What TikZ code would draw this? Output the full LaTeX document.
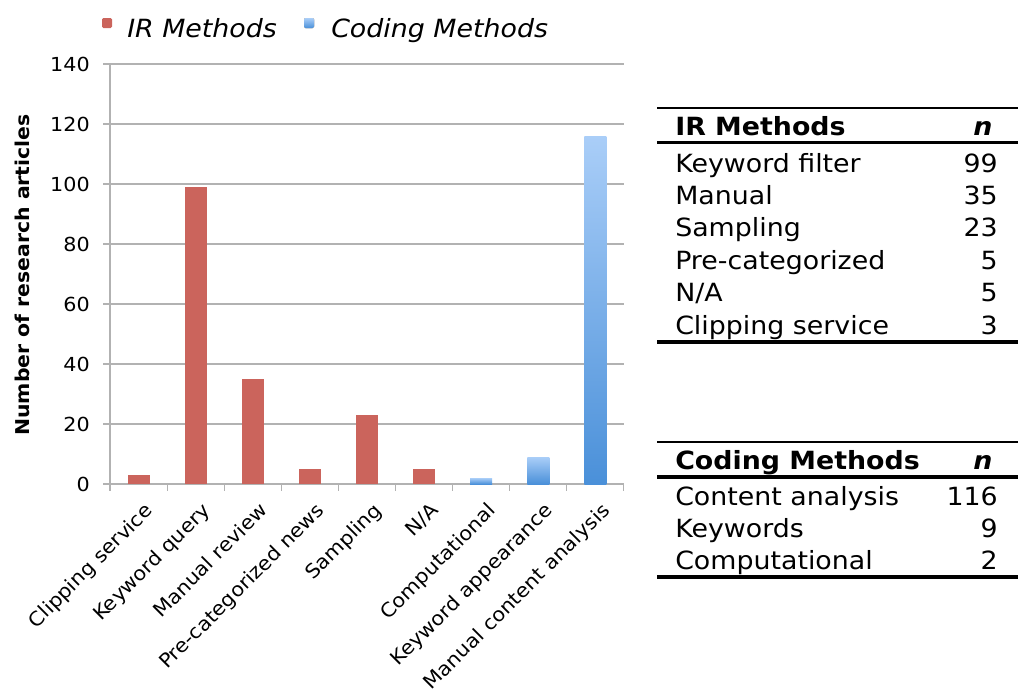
\documentclass[tikz,border=0pt]{standalone}
\usepackage{fontspec}
\setmainfont{DejaVu Sans}[FakeStretch=1.07]
\definecolor{gridgray}{RGB}{178,178,178}
\definecolor{irred}{RGB}{203,100,92}
\definecolor{codetop}{RGB}{170,206,248}
\definecolor{codebot}{RGB}{74,144,217}
\begin{document}
\begin{tikzpicture}[x=0.75pt,y=-0.75pt,
  gridline/.style={draw=gridgray,line width=0.8pt},
  irbar/.style={fill=irred},
  codebar/.style={top color=codetop,bottom color=codebot},
  ticklabel/.style={font=\fontsize{14.5}{17}\selectfont,anchor=east,inner sep=0pt},
  catlabel/.style={font=\fontsize{14.6}{17}\selectfont,rotate=45,anchor=north east,inner sep=0pt},
  legendtext/.style={font=\fontsize{18.8}{22}\selectfont\itshape,anchor=base west,inner sep=0pt},
  cell/.style={font=\fontsize{18.8}{22}\selectfont,anchor=base west,inner sep=0pt},
  numcell/.style={font=\fontsize{18.8}{22}\selectfont,anchor=base east,inner sep=0pt},
  headcell/.style={font=\fontsize{18.8}{22}\selectfont\bfseries,anchor=base west,inner sep=0pt},
  thinrule/.style={line width=1.5pt},
  thickrule/.style={line width=2.3pt}]
\useasboundingbox (0,0) rectangle (1018,690);

% legend
\fill[irred,rounded corners=1pt] (102,18) rectangle (112,28);
\node[legendtext] (legir) at (127,37) {IR Methods};
\fill[codebar,rounded corners=1pt] (304,18) rectangle (314,28);
\node[legendtext] (legcode) at (331,37) {Coding Methods};

% horizontal grid lines and y ticks
\foreach \v in {0,20,...,140} {
  \draw[gridline] (103,{484-3*\v}) -- (624,{484-3*\v});
  \node[ticklabel] (y\v) at (90,{484-3*\v}) {\v};
}
% y axis and category ticks
\draw[gridline] (110,64) -- (110,491);
\foreach \i in {0,...,9}
  \draw[gridline] ({110+57.1*\i},484) -- ({110+57.1*\i},491);

% axis title
\node[font=\fontsize{14.3}{17}\selectfont\bfseries,rotate=90] (ytitle) at (22,275) {Number of research articles};

% bars
\foreach \i/\v in {1/3,2/99,3/35,4/5,5/23,6/5}
  \fill[irbar] ({110+57.1*(\i-0.5)-11},484) rectangle ({110+57.1*(\i-0.5)+11},{484-3*\v});
\foreach \i/\v in {7/2,8/9,9/116}
  \shade[codebar] ({110+57.1*(\i-0.5)-11},484) rectangle ({110+57.1*(\i-0.5)+11},{484-3*\v});

% category labels
\foreach \i/\t in {1/{Clipping service},2/{Keyword query},3/{Manual review},4/{Pre-categorized news},5/{Sampling},6/{N/A},7/{Computational},8/{Keyword appearance},9/{Manual content analysis}}
  \node[catlabel] (cat\i) at ({110+57.1*(\i-0.5)+5},501) {\t};

% IR methods table
\draw[thinrule] (657,108) -- (1018,108);
\node[headcell] (irhead) at (675,135) {IR Methods};
\node[headcell,anchor=base] (irn) at (983,135) {\itshape n};
\draw[thickrule] (657,142.5) -- (1018,142.5);
\foreach \k/\t/\n in {0/{Keyword filter}/99,1/{Manual}/35,2/{Sampling}/23,3/{Pre-categorized}/5,4/{N/A}/5,5/{Clipping service}/3} {
  \node[cell] (irr\k) at (675,{172+32.4*\k}) {\t};
  \node[numcell] (irv\k) at (998,{172+32.4*\k}) {\n};
}
\draw[thickrule] (657,342) -- (1018,342);

% coding methods table
\draw[thinrule] (657,442) -- (1018,442);
\node[headcell] (cohead) at (675,469) {Coding Methods};
\node[headcell,anchor=base] (con) at (983,469) {\itshape n};
\draw[thickrule] (657,477) -- (1018,477);
\foreach \k/\t/\n in {0/{Content analysis}/116,1/{Keywords}/9,2/{Computational}/2} {
  \node[cell] (cor\k) at (675,{505+32*\k}) {\t};
  \node[numcell] (cov\k) at (998,{505+32*\k}) {\n};
}
\draw[thickrule] (657,577) -- (1018,577);
\end{tikzpicture}
\end{document}
